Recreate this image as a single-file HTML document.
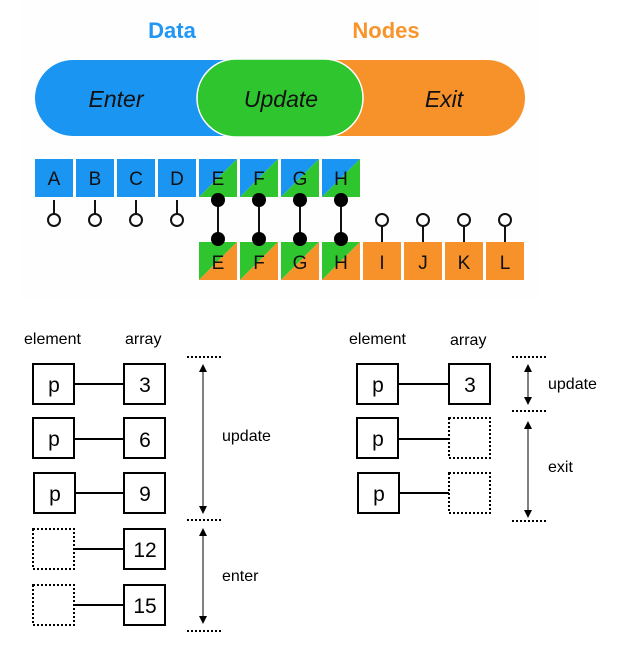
<!DOCTYPE html>
<html><head><meta charset="utf-8"><style>
html,body{margin:0;padding:0;background:#fff;}
svg{display:block;}
text{font-family:"Liberation Sans",Arial,sans-serif;}
</style></head><body>
<svg width="627" height="658" viewBox="0 0 627 658" xmlns="http://www.w3.org/2000/svg">
<rect x="20" y="0" width="520" height="298" fill="#fefefe"/>
<text x="172" y="38" font-size="22" font-weight="bold" fill="#2196f3" text-anchor="middle">Data</text>
<text x="386" y="38" font-size="22" font-weight="bold" fill="#f7952b" text-anchor="middle">Nodes</text>
<!-- pill -->
<rect x="35" y="60" width="280" height="76" rx="38" fill="#1a95f2"/>
<rect x="250" y="60" width="275" height="76" rx="38" fill="#f7922a"/>
<rect x="197" y="59" width="166" height="78" rx="39" fill="#2fc52e" stroke="#fff" stroke-width="1.5"/>
<g font-size="23" font-style="italic" fill="#111" text-anchor="middle">
<text x="116" y="107">Enter</text><text x="281" y="107">Update</text><text x="444" y="107">Exit</text>
</g>
<!-- top row -->
<g font-size="19" fill="#111" text-anchor="middle">
<rect x="35" y="159" width="38" height="38" fill="#1a95f2"/><text x="54" y="185">A</text>
<rect x="76" y="159" width="38" height="38" fill="#1a95f2"/><text x="95" y="185">B</text>
<rect x="117" y="159" width="38" height="38" fill="#1a95f2"/><text x="136" y="185">C</text>
<rect x="158" y="159" width="38" height="38" fill="#1a95f2"/><text x="177" y="185">D</text>
<polygon points="199,159 237,159 199,197" fill="#1a95f2"/><polygon points="237,159 237,197 199,197" fill="#2fc52e"/>
<polygon points="240,159 278,159 240,197" fill="#1a95f2"/><polygon points="278,159 278,197 240,197" fill="#2fc52e"/>
<polygon points="281,159 319,159 281,197" fill="#1a95f2"/><polygon points="319,159 319,197 281,197" fill="#2fc52e"/>
<polygon points="322,159 360,159 322,197" fill="#1a95f2"/><polygon points="360,159 360,197 322,197" fill="#2fc52e"/>
<text x="218" y="185">E</text><text x="259" y="185">F</text><text x="300" y="185">G</text><text x="341" y="185">H</text>
<!-- bottom row -->
<polygon points="199,242 237,242 199,280" fill="#2fc52e"/><polygon points="237,242 237,280 199,280" fill="#f7922a"/>
<polygon points="240,242 278,242 240,280" fill="#2fc52e"/><polygon points="278,242 278,280 240,280" fill="#f7922a"/>
<polygon points="281,242 319,242 281,280" fill="#2fc52e"/><polygon points="319,242 319,280 281,280" fill="#f7922a"/>
<polygon points="322,242 360,242 322,280" fill="#2fc52e"/><polygon points="360,242 360,280 322,280" fill="#f7922a"/>
<rect x="363" y="242" width="38" height="38" fill="#f7922a"/>
<rect x="404" y="242" width="38" height="38" fill="#f7922a"/>
<rect x="445" y="242" width="38" height="38" fill="#f7922a"/>
<rect x="486" y="242" width="38" height="38" fill="#f7922a"/>
<text x="218" y="269">E</text><text x="259" y="269">F</text><text x="300" y="269">G</text><text x="341" y="269">H</text>
<text x="382" y="269">I</text><text x="423" y="269">J</text><text x="464" y="269">K</text><text x="505" y="269">L</text>
</g>
<!-- pins -->
<g stroke="#111" stroke-width="2" fill="#fff">
<line x1="54" y1="200" x2="54" y2="214"/><circle cx="54" cy="220" r="6"/>
<line x1="95" y1="200" x2="95" y2="214"/><circle cx="95" cy="220" r="6"/>
<line x1="136" y1="200" x2="136" y2="214"/><circle cx="136" cy="220" r="6"/>
<line x1="177" y1="200" x2="177" y2="214"/><circle cx="177" cy="220" r="6"/>
<line x1="382" y1="226" x2="382" y2="242"/><circle cx="382" cy="220" r="6"/>
<line x1="423" y1="226" x2="423" y2="242"/><circle cx="423" cy="220" r="6"/>
<line x1="464" y1="226" x2="464" y2="242"/><circle cx="464" cy="220" r="6"/>
<line x1="505" y1="226" x2="505" y2="242"/><circle cx="505" cy="220" r="6"/>
<line x1="218" y1="200" x2="218" y2="239"/><line x1="259" y1="200" x2="259" y2="239"/>
<line x1="300" y1="200" x2="300" y2="239"/><line x1="341" y1="200" x2="341" y2="239"/>
</g>
<g fill="#000">
<circle cx="218" cy="200" r="7"/><circle cx="218" cy="239" r="7"/>
<circle cx="259" cy="200" r="7"/><circle cx="259" cy="239" r="7"/>
<circle cx="300" cy="200" r="7"/><circle cx="300" cy="239" r="7"/>
<circle cx="341" cy="200" r="7"/><circle cx="341" cy="239" r="7"/>
</g>

<g font-size="16" fill="#000">
<text x="24" y="344">element</text><text x="125" y="344">array</text>
<text x="222" y="441">update</text><text x="222" y="581">enter</text>
<text x="349" y="344">element</text><text x="450" y="345">array</text>
<text x="548" y="389">update</text><text x="548" y="472">exit</text>
</g>
<g stroke="#000" stroke-width="2" fill="none">
<rect x="33" y="364" width="41" height="40"/><rect x="33" y="418" width="41" height="40"/><rect x="34" y="473" width="41" height="40"/>
<rect x="124" y="364" width="41" height="40"/><rect x="124" y="418" width="41" height="40"/><rect x="124" y="473" width="41" height="40"/>
<rect x="124" y="529" width="41" height="40"/><rect x="124" y="585" width="41" height="40"/>
<line x1="74" y1="384" x2="124" y2="384"/><line x1="74" y1="439" x2="124" y2="439"/><line x1="75" y1="493" x2="124" y2="493"/>
<line x1="74" y1="549" x2="124" y2="549"/><line x1="74" y1="605" x2="124" y2="605"/>
<rect x="33" y="529" width="41" height="40" stroke-dasharray="2,2"/><rect x="33" y="585" width="41" height="40" stroke-dasharray="2,2"/>
<line x1="187" y1="357" x2="221" y2="357" stroke-dasharray="2,2"/>
<line x1="187" y1="520" x2="221" y2="520" stroke-dasharray="2,2"/>
<line x1="187" y1="631" x2="221" y2="631" stroke-dasharray="2,2"/>
<rect x="357" y="364" width="41" height="40"/><rect x="357" y="418" width="41" height="40"/><rect x="358" y="473" width="41" height="40"/>
<rect x="449" y="364" width="41" height="40"/>
<rect x="449" y="418" width="41" height="40" stroke-dasharray="2,2"/><rect x="449" y="473" width="41" height="40" stroke-dasharray="2,2"/>
<line x1="398" y1="384" x2="449" y2="384"/><line x1="398" y1="439" x2="449" y2="439"/><line x1="399" y1="493" x2="449" y2="493"/>
<line x1="512" y1="357" x2="546" y2="357" stroke-dasharray="2,2"/>
<line x1="512" y1="411" x2="546" y2="411" stroke-dasharray="2,2"/>
<line x1="512" y1="521" x2="546" y2="521" stroke-dasharray="2,2"/>
</g>
<g stroke="#000" stroke-width="1">
<line x1="203" y1="368" x2="203" y2="510"/><line x1="203" y1="532" x2="203" y2="620"/>
<line x1="528" y1="367" x2="528" y2="402"/><line x1="528" y1="425" x2="528" y2="514"/>
</g>
<g fill="#000">
<polygon points="203,364 199,372 207,372"/><polygon points="203,514 199,506 207,506"/>
<polygon points="203,528 199,536 207,536"/><polygon points="203,624 199,616 207,616"/>
<polygon points="528,364 524,372 532,372"/><polygon points="528,405 524,397 532,397"/>
<polygon points="528,421 524,429 532,429"/><polygon points="528,518 524,510 532,510"/>
</g>
<g font-size="21" fill="#000" text-anchor="middle">
<text x="54" y="392">p</text><text x="54" y="446">p</text><text x="55" y="501">p</text>
<text x="145" y="392">3</text><text x="145" y="447">6</text><text x="145" y="501">9</text>
<text x="145" y="557">12</text><text x="145" y="613">15</text>
<text x="378" y="392">p</text><text x="378" y="446">p</text><text x="379" y="501">p</text>
<text x="470" y="392">3</text>
</g>
</svg>
</body></html>
